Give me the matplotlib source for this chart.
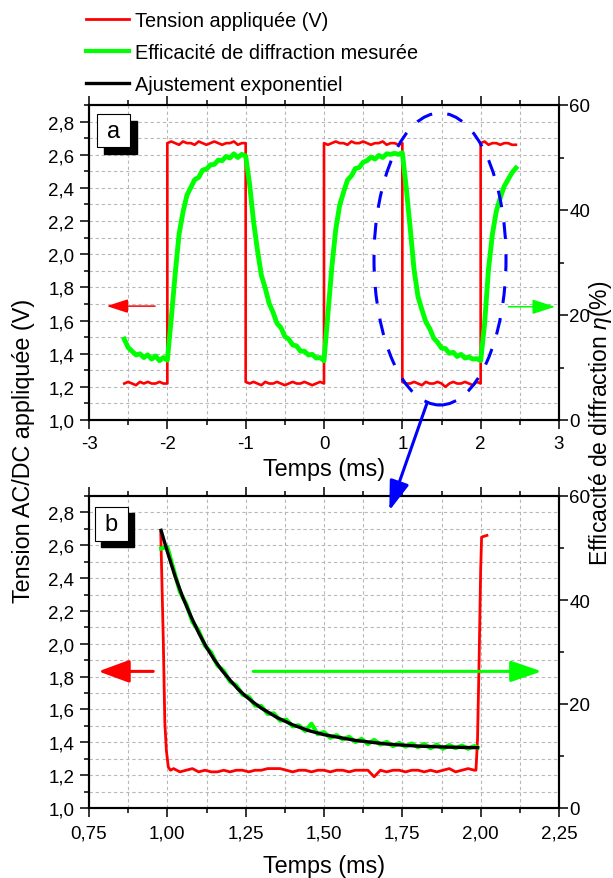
import numpy as np
import matplotlib
matplotlib.use("Agg")
import matplotlib.pyplot as plt
from matplotlib.ticker import MultipleLocator, FuncFormatter
from matplotlib.patches import Rectangle, Ellipse, FancyArrowPatch

plt.rcParams['font.family'] = ['Liberation Sans', 'DejaVu Sans']
plt.rcParams['mathtext.fontset'] = 'custom'
plt.rcParams['mathtext.it'] = 'Liberation Sans:italic'
plt.rcParams['mathtext.rm'] = 'Liberation Sans'

# ---- panel a : applied voltage (V), square wave, 0.05 ms sampling ----
red_low1 = [1.22, 1.23, 1.22, 1.21, 1.23, 1.22, 1.23, 1.22, 1.22, 1.23, 1.22, 1.22]
red_high1 = [2.67, 2.68, 2.67, 2.66, 2.68, 2.67, 2.67, 2.66, 2.68, 2.67, 2.66,
             2.67, 2.68, 2.67, 2.66, 2.67, 2.67, 2.68, 2.66, 2.67, 2.67]
red_low2 = [1.23, 1.22, 1.23, 1.22, 1.21, 1.23, 1.22, 1.22, 1.23, 1.22, 1.21,
            1.22, 1.23, 1.22, 1.22, 1.23, 1.22, 1.21, 1.22, 1.23, 1.22]
red_high2 = [2.67, 2.66, 2.67, 2.68, 2.67, 2.67, 2.66, 2.68, 2.67, 2.67, 2.68,
             2.67, 2.66, 2.67, 2.67, 2.68, 2.66, 2.67, 2.67, 2.66, 2.67]
red_low3 = [1.23, 1.22, 1.22, 1.23, 1.22, 1.21, 1.23, 1.22, 1.22, 1.23, 1.22,
            1.20, 1.22, 1.23, 1.22, 1.22, 1.23, 1.22, 1.21, 1.23, 1.22]
red_high3 = [2.67, 2.68, 2.66, 2.67, 2.67, 2.66, 2.67, 2.67, 2.66, 2.66]
red_edges = [(-2.55, -2.0), (-2.0, -1.0), (-1.0, 0.0), (0.0, 1.0), (1.0, 2.0), (2.0, 2.45)]

# ---- panel a : measured diffraction efficiency (%), t = -2.55 .. 2.45 step 0.05 ----
green_top = [
    15.4, 13.8, 13.1, 12.4, 12.6, 11.9, 12.4, 11.6, 12.2, 11.3, 11.9, 11.4,
    19.3, 27.8, 35.4, 39.6, 42.8, 44.3, 45.8, 46.2, 47.6, 47.8,
    48.6, 48.7, 49.5, 49.4, 50.2, 49.9, 50.7, 50.0, 50.6, 50.3,
    44.9, 37.9, 32.4, 27.6, 25.1, 22.2, 20.5, 18.4, 17.6, 15.9,
    15.4, 14.3, 14.1, 13.1, 13.1, 12.4, 12.5, 11.8, 11.9, 11.3,
    20.2, 29.1, 36.3, 40.9, 43.4, 45.7, 46.5, 47.9, 48.1, 49.1,
    49.4, 50.1, 49.7, 50.4, 50.0, 50.7, 50.6, 50.8, 50.6, 50.9,
    44.2, 36.6, 28.6, 23.5, 21.0, 18.7, 17.4, 15.6, 14.8, 13.7,
    13.6, 12.7, 12.9, 12.1, 12.5, 11.8, 12.0, 11.6, 11.7, 11.3,
    18.3, 28.7, 35.4, 39.8, 42.3, 44.5, 45.8, 47.1, 48.0]

# ---- panel b : zoom on one falling edge ----
red_b_t = [0.979, 0.987, 0.992, 0.997, 1.003, 1.01,
           1.02, 1.04, 1.06, 1.08, 1.10, 1.12, 1.14, 1.16, 1.18, 1.20, 1.22, 1.24,
           1.26, 1.28, 1.30, 1.32, 1.34, 1.36, 1.38, 1.40, 1.42, 1.44, 1.46, 1.48,
           1.50, 1.52, 1.54, 1.56, 1.58, 1.60, 1.62, 1.64, 1.66, 1.68, 1.70, 1.72,
           1.74, 1.76, 1.78, 1.80, 1.82, 1.84, 1.86, 1.88, 1.90, 1.92, 1.94, 1.96,
           1.98, 1.985, 1.99, 1.995, 2.0, 2.003, 2.02]
red_b_v = [2.68, 2.03, 1.52, 1.35, 1.25, 1.23,
           1.24, 1.22, 1.23, 1.24, 1.22, 1.23, 1.22, 1.22, 1.23, 1.22, 1.23, 1.23,
           1.22, 1.23, 1.23, 1.24, 1.24, 1.24, 1.23, 1.22, 1.23, 1.23, 1.22, 1.23,
           1.23, 1.22, 1.23, 1.23, 1.22, 1.23, 1.23, 1.23, 1.19, 1.23, 1.22, 1.23,
           1.23, 1.22, 1.23, 1.23, 1.22, 1.23, 1.22, 1.23, 1.24, 1.22, 1.23, 1.24,
           1.23, 1.23, 1.42, 1.90, 2.45, 2.65, 2.66]

green_b = [49.9, 50.2, 45.9, 41.6, 39.3, 35.8, 34.1, 31.2, 29.9, 27.4, 26.4,
           24.3, 23.6, 21.8, 21.4, 19.7, 19.6, 18.1, 18.2, 16.8, 17.0, 15.7,
           15.9, 14.8, 16.2, 14.2, 14.6, 13.5, 14.0, 13.2, 13.7, 12.7, 13.3,
           12.3, 13.1, 12.2, 12.7, 11.9, 12.5, 11.8, 12.4, 11.7, 12.3, 11.5,
           12.2, 11.4, 12.1, 11.5, 12.0, 11.4, 11.9, 11.6]

fit_t = [0.98, 1.0, 1.025, 1.05, 1.075, 1.1, 1.125, 1.15, 1.175, 1.2, 1.225,
         1.25, 1.275, 1.3, 1.35, 1.4, 1.45, 1.5, 1.6, 1.7, 1.8, 1.9, 1.99]
fit_eta = [53.4, 49.3, 44.5, 40.4, 36.9, 33.7, 30.9, 28.5, 26.4, 24.6, 22.9,
           21.5, 20.3, 19.2, 17.4, 16.0, 14.9, 14.1, 13.0, 12.3, 11.9, 11.7, 11.6]

RED, GREEN, BLUE = '#ff0000', '#00ff00', '#0000ff'
W, H = 613, 879

fig = plt.figure(figsize=(W / 100, H / 100), dpi=100)
ax1 = fig.add_axes([89 / W, 1 - 421 / H, 470 / W, 315 / H])
ax3 = fig.add_axes([89 / W, 1 - 809 / H, 470 / W, 312 / H])


def style(ax, xlim, xmaj, xmin, xfmt, xpad, labelpad):
    ax.set_xlim(*xlim)
    ax.set_ylim(1.0, 2.9)
    ax.xaxis.set_major_locator(MultipleLocator(xmaj))
    ax.xaxis.set_minor_locator(MultipleLocator(xmin))
    ax.yaxis.set_major_locator(MultipleLocator(0.2))
    ax.yaxis.set_minor_locator(MultipleLocator(0.1))
    ax.xaxis.set_major_formatter(FuncFormatter(lambda v, p: xfmt.format(v).replace('.', ',')))
    ax.yaxis.set_major_formatter(FuncFormatter(lambda v, p: f'{v:.1f}'.replace('.', ',')))
    ax.grid(which='both', color='#b8b8b8', lw=0.8, ls=(0, (3, 2.5)))
    ax.set_axisbelow(True)
    ax.tick_params(which='both', direction='out', top=True, labelsize=13.5, width=1.1)
    ax.tick_params(axis='x', pad=xpad)
    ax.tick_params(axis='y', pad=4)
    ax.tick_params(which='major', length=6.5)
    ax.tick_params(which='minor', length=3.6)
    ax.set_xlabel('Temps (ms)', fontsize=16.8, labelpad=labelpad)
    for s in ax.spines.values():
        s.set_linewidth(1.5)
    ax2 = ax.twinx()
    ax2.set_ylim(0, 60)
    ax2.yaxis.set_major_locator(MultipleLocator(20))
    ax2.yaxis.set_minor_locator(MultipleLocator(10))
    ax2.tick_params(which='both', direction='out', labelsize=13.5, width=1.1, pad=1)
    ax2.tick_params(which='major', length=6.5)
    ax2.tick_params(which='minor', length=3.6)
    for s in ax2.spines.values():
        s.set_linewidth(1.5)
    return ax2


def label_box(ax, x0, y0, w, h, dx, dy, txt):
    ax.add_patch(Rectangle((x0 + dx, y0 + dy), w, h, transform=ax.transAxes,
                           facecolor='black', edgecolor='black', zorder=5))
    ax.add_patch(Rectangle((x0, y0), w, h, transform=ax.transAxes,
                           facecolor='white', edgecolor='black', lw=0.8, zorder=6))
    ax.text(x0 + w / 2, y0 + h / 2, txt, transform=ax.transAxes, ha='center',
            va='center', fontsize=17, zorder=7)


# ---------- panel a ----------
ax2 = style(ax1, (-3, 3), 1, 0.5, '{:.0f}', 4, 4)
red_segments = [red_low1, red_high1, red_low2, red_high2, red_low3, red_high3]
red_t, red_v = [], []
for (t0, t1), seg in zip(red_edges, red_segments):
    red_t.extend(np.linspace(t0, t1, len(seg)))
    red_v.extend(seg)
ax1.plot(red_t, red_v, color=RED, lw=1.9)
green_t = np.linspace(-2.55, 2.45, len(green_top))
ax2.plot(green_t, green_top, color=GREEN, lw=3.5)
label_box(ax1, 0.0177, 0.8657, 0.0696, 0.1057, 0.0142, -0.0213, 'a')
ax1.annotate('', xy=(-2.774, 1.687), xytext=(-2.157, 1.687),
             arrowprops=dict(arrowstyle='-|>,head_length=1.3,head_width=0.42',
                             color=RED, lw=1.1, shrinkA=0, shrinkB=0))
ax1.annotate('', xy=(2.951, 1.683), xytext=(2.355, 1.683),
             arrowprops=dict(arrowstyle='-|>,head_length=1.4,head_width=0.45',
                             color=GREEN, lw=1.1, shrinkA=0, shrinkB=0))

# ---------- panel b ----------
ax4 = style(ax3, (0.75, 2.25), 0.25, 0.125, '{:.2f}', 5.5, 9)
l_red, = ax3.plot(red_b_t, red_b_v, color=RED, lw=2.0)
green_b_t = list(np.linspace(0.98, 1.98, len(green_b) - 1)) + [1.99]
l_green, = ax4.plot(green_b_t, green_b, color=GREEN, lw=3.0)
l_fit, = ax4.plot(fit_t, fit_eta, color='black', lw=2.4)
label_box(ax3, 0.0128, 0.8567, 0.0696, 0.107, 0.0134, -0.0192, 'b')
ax3.annotate('', xy=(0.780, 1.832), xytext=(0.955, 1.832),
             arrowprops=dict(arrowstyle='-|>,head_length=1.9,head_width=0.7',
                             color=RED, lw=2.2, shrinkA=0, shrinkB=0))
ax3.annotate('', xy=(2.195, 1.832), xytext=(1.274, 1.832),
             arrowprops=dict(arrowstyle='-|>,head_length=1.9,head_width=0.65',
                             color=GREEN, lw=2.2, shrinkA=0, shrinkB=0))

# ---------- annotations spanning the panels ----------
fig.add_artist(Ellipse((4.40, (H - 260) / 100), 1.32, 2.92,
                       transform=fig.dpi_scale_trans, fill=False, edgecolor=BLUE,
                       lw=2.2, ls=(0, (5.5, 5))))
fig.add_artist(FancyArrowPatch((4.267, (H - 405) / 100), (3.893, (H - 511.7) / 100),
                               transform=fig.dpi_scale_trans, color=BLUE, lw=2.2,
                               arrowstyle='-|>,head_length=1.8,head_width=0.6',
                               mutation_scale=10, shrinkA=0, shrinkB=0))

fig.text(23.5 / W, 1 - 451 / H, 'Tension AC/DC appliquée (V)', rotation=90,
         ha='center', va='center', fontsize=16.8)
fig.text(600 / W, 1 - 423.5 / H, 'Efficacité de diffraction $\\eta$(%)', rotation=90,
         ha='center', va='center', fontsize=16.5)

fig.legend([l_red, l_green, l_fit],
           ['Tension appliquée (V)', 'Efficacité de diffraction mesurée',
            'Ajustement exponentiel'],
           loc='upper left', bbox_to_anchor=(86 / W, 1 - 12 / H), frameon=False,
           fontsize=14.3, handlelength=2.16, handletextpad=0.3, labelspacing=0.66,
           borderpad=0, borderaxespad=0)

fig.savefig('out.png', dpi=100)
